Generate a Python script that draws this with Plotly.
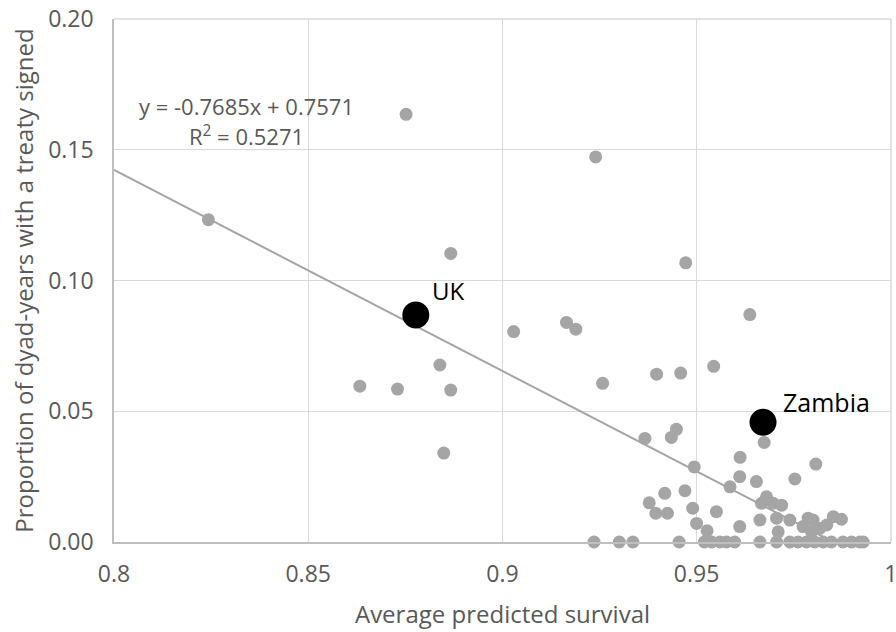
import plotly.graph_objects as go

# --- data ---
gray_x = [0.8243, 0.8752, 0.8867, 0.8839, 0.8633, 0.8730, 0.8867, 0.8849,
          0.9240, 0.9472, 0.9029, 0.9165, 0.9189, 0.9258, 0.9397, 0.9459,
          0.9544, 0.9637, 0.9448, 0.9435, 0.9367, 0.9674, 0.9612, 0.9807,
          0.9494, 0.9611, 0.9654, 0.9753, 0.9586, 0.9418, 0.9470, 0.9378,
          0.9395, 0.9425, 0.9490, 0.9551, 0.9500, 0.9527, 0.9680, 0.9667,
          0.9697, 0.9719, 0.9663, 0.9706, 0.9710, 0.9611, 0.9740, 0.9787,
          0.9800, 0.9852, 0.9873, 0.9774, 0.9817, 0.9835, 0.9796]
gray_y = [0.1233, 0.1636, 0.1104, 0.0677, 0.0596, 0.0585, 0.0581, 0.0340,
          0.1473, 0.1068, 0.0805, 0.0840, 0.0814, 0.0607, 0.0642, 0.0646,
          0.0672, 0.0870, 0.0431, 0.0400, 0.0396, 0.0381, 0.0324, 0.0298,
          0.0287, 0.0250, 0.0231, 0.0241, 0.0211, 0.0186, 0.0196, 0.0150,
          0.0110, 0.0110, 0.0129, 0.0116, 0.0071, 0.0043, 0.0173, 0.0148,
          0.0148, 0.0141, 0.0084, 0.0091, 0.0039, 0.0059, 0.0084, 0.0091,
          0.0084, 0.0097, 0.0087, 0.0059, 0.0052, 0.0065, 0.0039]
zero_x = [0.9236, 0.9301, 0.9336, 0.9455, 0.9520, 0.9539, 0.9560, 0.9577,
          0.9598, 0.9663, 0.9706, 0.9740, 0.9761, 0.9783, 0.9804, 0.9826,
          0.9847, 0.9877, 0.9899, 0.9920, 0.9929]
zero_y = [0.0] * len(zero_x)

highlight_names = ["UK", "Zambia"]
highlight_x = [0.8777, 0.9671]
highlight_y = [0.0868, 0.0458]

slope = -0.7685
intercept = 0.7571
r_squared = 0.5271
trend_x = [0.8, 0.993]
trend_y = [slope * v + intercept for v in trend_x]

x_ticks = [0.8, 0.85, 0.9, 0.95, 1.0]
x_tick_labels = ["0.8", "0.85", "0.9", "0.95", "1"]
y_ticks = [0.0, 0.05, 0.10, 0.15, 0.20]
y_tick_labels = ["0.00", "0.05", "0.10", "0.15", "0.20"]

FONT = "Open Sans"
GRAY_TXT = "#595959"
DOT = "#a5a5a5"
GRID = "#d9d9d9"

fig = go.Figure()
fig.add_trace(go.Scatter(x=trend_x, y=trend_y, mode="lines",
                         line=dict(color=DOT, width=2), hoverinfo="skip",
                         showlegend=False))
fig.add_trace(go.Scatter(x=gray_x + zero_x, y=gray_y + zero_y, mode="markers",
                         marker=dict(color=DOT, size=13),
                         cliponaxis=False, showlegend=False))
fig.add_trace(go.Scatter(x=highlight_x, y=highlight_y, mode="markers",
                         marker=dict(color="black", size=27),
                         cliponaxis=False, showlegend=False,
                         text=highlight_names))

fig.add_annotation(x=highlight_x[0], y=highlight_y[0], text=highlight_names[0],
                   showarrow=False, xanchor="left", yanchor="middle",
                   xshift=14, yshift=25, font=dict(family=FONT, size=24, color="black"))
fig.add_annotation(x=highlight_x[1], y=highlight_y[1], text=highlight_names[1],
                   showarrow=False, xanchor="left", yanchor="middle",
                   xshift=18, yshift=20, font=dict(family=FONT, size=25, color="black"))
fig.add_annotation(x=0.8342, y=0.1667,
                   text=f"y = {slope}x + {intercept}",
                   showarrow=False, xanchor="center", yanchor="middle",
                   font=dict(family=FONT, size=22, color=GRAY_TXT))
fig.add_annotation(x=0.8342, y=0.1556,
                   text=f"R<sup>2</sup> = {r_squared}",
                   showarrow=False, xanchor="center", yanchor="middle",
                   font=dict(family=FONT, size=22, color=GRAY_TXT))

# top and right edge grid lines (plotly skips gridlines on the plot edges)
fig.add_shape(type="line", xref="paper", yref="paper", x0=0, x1=1, y0=1, y1=1,
              line=dict(color=GRID, width=1.5), layer="above")
fig.add_shape(type="line", xref="paper", yref="paper", x0=1, x1=1, y0=0, y1=1,
              line=dict(color=GRID, width=1.5), layer="above")

fig.update_layout(
    width=896, height=632,
    margin=dict(l=114, r=5, t=19, b=90),
    paper_bgcolor="white", plot_bgcolor="white",
    font=dict(family=FONT, color=GRAY_TXT),
    xaxis=dict(range=[0.8, 1.00005], tickvals=x_ticks, ticktext=x_tick_labels,
               automargin=False, ticklabeloverflow="allow",
               showgrid=True, gridcolor=GRID, gridwidth=1,
               showline=True, linecolor="#bfbfbf", linewidth=1.5,
               zeroline=False, ticks="", ticklabelstandoff=11,
               tickfont=dict(family=FONT, size=23, color=GRAY_TXT),
               title=dict(text="Average predicted survival", standoff=18,
                          font=dict(family=FONT, size=24, color=GRAY_TXT))),
    yaxis=dict(range=[0.0, 0.20005], tickvals=y_ticks, ticktext=y_tick_labels,
               automargin=False, ticklabeloverflow="allow",
               showgrid=True, gridcolor=GRID, gridwidth=1,
               showline=True, linecolor="#bfbfbf", linewidth=1.5,
               zeroline=False, ticks="", ticklabelstandoff=14,
               tickfont=dict(family=FONT, size=23, color=GRAY_TXT),
               title=dict(text="Proportion of dyad-years with a treaty signed", standoff=8,
                          font=dict(family=FONT, size=24, color=GRAY_TXT))),
)

# remove the browser's default 8px body margin so the figure sits at the page origin
fig.write_html("out.html", config={"displayModeBar": False},
               post_script="document.body.style.margin='0';document.body.style.overflow='hidden';")
